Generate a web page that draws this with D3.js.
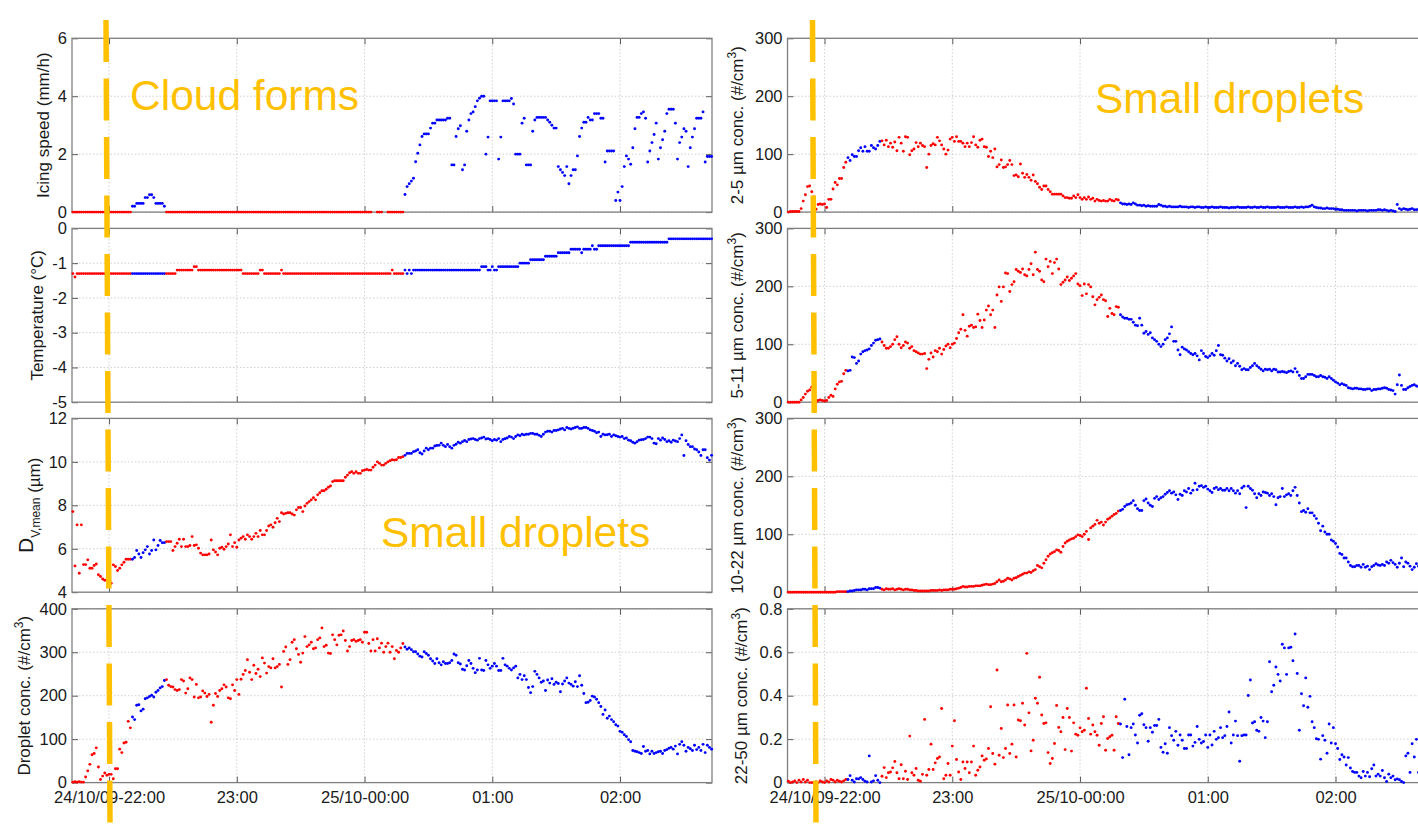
<!DOCTYPE html>
<html>
<head>
<meta charset="utf-8">
<script src="https://cdn.jsdelivr.net/npm/d3@7"></script>
<style>
  html, body { margin: 0; padding: 0; background: #fff; }
  svg { display: block; font-family: Arial, "Liberation Sans", sans-serif; }
</style>
</head>
<body>
<svg id="chart" width="1418" height="824"></svg>
<script>
// ---- time axis (1-minute samples from 21:43 to 02:43) ----
const sampleStart = "2009-10-24T21:43:00";
const xDomain = ["2009-10-24T21:42:36", "2009-10-25T02:43:12"];
const tickTimes = ["2009-10-24T22:00:00", "2009-10-24T23:00:00", "2009-10-25T00:00:00", "2009-10-25T01:00:00", "2009-10-25T02:00:00"];
const tickLabels = ["24/10/09-22:00", "23:00", "25/10-00:00", "01:00", "02:00"];

// ---- measured series (one value per minute) ----
const icingSpeed = [
  0,0,0,0,0,0,0,0,0,0, 0,0,0,0,0,0,0,0,0,0, 0,0,0,0,0,0,0,0,
  0.2,0.2,0.3,0.3,0.3,0.3,0.5,0.5,0.6,0.6,0.5,0.3,0.3,0.3,0.3,0.2,
  0,0,0,0,0,0,0,0,0,0, 0,0,0,0,0,0,0,0,0,0, 0,0,0,0,0,0,0,0,0,0,
  0,0,0,0,0,0,0,0,0,0, 0,0,0,0,0,0,0,0,0,0, 0,0,0,0,0,0,0,0,0,0,
  0,0,0,0,0,0,0,0,0,0, 0,0,0,0,0,0,0,0,0,0, 0,0,0,0,0,0,0,0,0,0,
  0,0,0,0,0,0,0,
  null,null,0,0,0,null,null,0,0,0,0,0,0,0,0,
  0.61,0.88,0.98,1.07,1.17,1.74,2.03,2.32,2.61,2.7,
  2.7,2.7,2.9,3.07,3.07,3.18,3.18,3.18,3.18,3.18,
  3.24,3.24,1.63,1.63,2.61,2.88,2.98,1.46,1.63,2.79,
  3.18,3.4,3.46,3.64,3.84,3.93,4.0,4.0,2.0,2.59,
  3.84,3.84,3.84,3.84,1.83,2.59,3.84,3.84,3.84,3.84,
  3.92,3.73,2.0,2.0,2.0,3.07,3.24,1.63,1.63,1.63,
  2.79,3.18,3.27,3.27,3.27,3.27,3.27,3.18,3.1,3.0,
  2.9,2.9,1.57,1.46,1.37,1.26,1.57,0.98,1.26,1.46,
  1.46,1.94,2.61,2.9,3.1,3.1,3.27,3.18,3.18,3.4,
  3.4,3.4,3.24,3.24,1.73,2.11,2.11,2.11,2.11,0.4,
  0.69,0.4,0.88,1.57,1.94,1.83,1.65,2.22,2.88,3.27,
  3.27,3.4,3.46,3.24,1.73,2.11,2.4,2.68,3.07,1.83,
  2.22,2.5,2.79,3.4,3.55,3.55,3.55,3.07,1.83,2.4,
  2.59,2.88,2.79,1.57,2.22,2.59,2.88,3.24,3.24,3.24,
  3.46,1.73,1.92,1.92,1.92
];

const temperature = [
  -1.3,-1.4,-1.3,-1.3,-1.3,-1.3,-1.3,-1.3,-1.3,-1.3,
  -1.3,-1.3,-1.3,-1.3,-1.3,-1.3,-1.3,-1.3,-1.3,-1.3,
  -1.3,-1.3,-1.3,-1.3,-1.3,-1.3,-1.3,-1.3,-1.3,-1.3,
  -1.3,-1.3,-1.3,-1.3,-1.3,-1.3,-1.3,-1.3,-1.3,-1.3,
  -1.3,-1.3,-1.3,-1.3,-1.3,-1.3,-1.3,-1.3,-1.3,-1.2,
  -1.2,-1.2,-1.2,-1.2,-1.2,-1.2,-1.2,-1.1,-1.1,-1.2,
  -1.2,-1.2,-1.2,-1.2,-1.2,-1.2,-1.2,-1.2,-1.2,-1.2,
  -1.2,-1.2,-1.2,-1.2,-1.2,-1.2,-1.2,-1.2,-1.2,-1.2,
  -1.3,-1.3,-1.3,-1.3,-1.3,-1.3,-1.3,-1.3,-1.2,-1.2,
  -1.3,-1.3,-1.3,-1.3,-1.3,-1.3,-1.3,-1.3,-1.2,-1.3,
  -1.3,-1.3,-1.3,-1.3,-1.3,-1.3,-1.3,-1.3,-1.3,-1.3,
  -1.3,-1.3,-1.3,-1.3,-1.3,-1.3,-1.3,-1.3,-1.3,-1.3,
  -1.3,-1.3,-1.3,-1.3,-1.3,-1.3,-1.3,-1.3,-1.3,-1.3,
  -1.3,-1.3,-1.3,-1.3,-1.3,-1.3,-1.3,-1.3,-1.3,-1.3,
  -1.3,-1.3,-1.3,-1.3,-1.3,-1.3,-1.3,-1.3,-1.3,-1.3,
  -1.2,-1.3,-1.3,-1.3,-1.3,-1.3,-1.2,-1.3,-1.2,-1.3,
  -1.2,-1.2,-1.2,-1.2,-1.2,-1.2,-1.2,-1.2,-1.2,-1.2,
  -1.2,-1.2,-1.2,-1.2,-1.2,-1.2,-1.2,-1.2,-1.2,-1.2,
  -1.2,-1.2,-1.2,-1.2,-1.2,-1.2,-1.2,-1.2,-1.2,-1.2,
  -1.2,-1.2,-1.1,-1.1,-1.1,-1.2,-1.2,-1.1,-1.2,-1.2,
  -1.1,-1.1,-1.1,-1.1,-1.1,-1.1,-1.1,-1.1,-1.1,-1.1,
  -1.0,-1.0,-1.0,-1.0,-1.0,-0.9,-0.9,-0.9,-0.9,-0.9,
  -0.9,-0.9,-0.8,-0.8,-0.8,-0.8,-0.8,-0.8,-0.7,-0.7,
  -0.7,-0.7,-0.7,-0.7,-0.6,-0.6,-0.6,-0.6,-0.6,-0.7,
  -0.6,-0.6,-0.6,-0.6,-0.5,-0.6,-0.6,-0.5,-0.5,-0.5,
  -0.5,-0.5,-0.5,-0.5,-0.5,-0.5,-0.5,-0.5,-0.5,-0.5,
  -0.5,-0.5,-0.4,-0.4,-0.4,-0.4,-0.4,-0.4,-0.4,-0.4,
  -0.4,-0.4,-0.4,-0.4,-0.4,-0.4,-0.4,-0.4,-0.4,-0.4,
  -0.3,-0.3,-0.3,-0.3,-0.3,-0.3,-0.3,-0.3,-0.3,-0.3,
  -0.3,-0.3,-0.3,-0.3,-0.3,-0.3,-0.3,-0.3,-0.3,-0.3,
  -0.3
];

const dvMean = [
  7.71,5.21,7.1,4.87,7.1,5.27,5.27,5.49,5.1,5.1,
  5.23,5.3,4.8,4.72,4.61,4.55,4.54,4.38,4.41,5.26,
  5.18,5.0,5.1,5.26,5.38,5.52,5.52,5.52,
  5.52,5.6,5.92,5.76,5.6,5.82,5.95,6.1,5.76,5.92,6.4,5.95,6.15,6.38,6.28,6.28,
  6.33,6.33,6.33,5.92,6.1,6.25,6.44,6.1,6.44,6.1,
  6.1,6.15,6.56,6.15,6.18,6.02,5.8,5.72,5.72,5.72,
  5.76,6.4,5.95,5.85,5.72,6.02,6.07,5.98,6.1,6.22,
  6.64,6.1,6.28,6.07,6.4,6.48,6.56,6.44,6.64,6.56,
  6.44,6.56,6.71,6.56,6.84,6.64,6.64,6.84,7.05,7.1,
  6.99,7.2,7.4,7.25,7.66,7.6,7.63,7.66,7.66,7.6,
  7.55,7.79,7.9,7.9,7.71,7.97,8.09,8.17,8.25,8.35,
  8.25,8.48,8.58,8.67,8.67,8.74,8.83,8.89,9.09,9.13,
  9.13,9.13,9.13,9.13,9.29,9.39,9.5,9.55,9.47,9.55,
  9.47,9.47,9.59,9.62,9.65,9.62,9.62,9.75,9.85,10.0,
  9.93,9.85,9.85,9.93,10.0,10.05,10.1,10.08,10.1,10.2,
  10.2,10.24,
  10.3,10.39,10.39,10.39,10.47,10.5,10.56,10.42,10.36,10.5,
  10.63,10.56,10.63,10.63,10.73,10.75,10.76,10.86,10.76,10.7,
  10.8,10.7,10.63,10.76,10.81,10.9,10.86,10.93,10.98,10.93,
  11.03,11.05,11.07,11.03,11.0,11.07,11.1,11.14,11.05,11.07,
  11.03,10.97,11.03,11.0,11.07,10.93,11.03,11.06,11.1,11.17,
  11.14,11.07,11.17,11.24,11.2,11.27,11.24,11.27,11.27,11.31,
  11.31,11.27,11.27,11.22,11.17,11.27,11.37,11.41,11.41,11.37,
  11.44,11.44,11.47,11.51,11.54,11.47,11.58,11.54,11.51,11.55,
  11.58,11.61,11.54,11.54,11.58,11.58,11.54,11.47,11.44,11.41,
  11.34,11.37,11.17,11.27,11.24,11.25,11.27,11.17,11.24,11.2,
  11.17,11.14,11.17,11.07,11.1,11.0,10.97,10.9,10.86,10.93,
  11.0,11.02,11.03,11.07,11.14,11.14,11.07,10.86,10.83,11.07,
  11.0,11.1,11.03,10.93,10.97,10.9,11.0,10.96,10.93,11.07,
  11.24,10.29,10.97,10.8,10.7,10.7,10.59,10.56,10.45,10.29,
  10.56,10.56,10.19,10.08,10.3
];

const dropletConc = [
  1,2,1,2,1,1,13,27,42,64,67,80,36,7,15,22,17,19,19,9,32,32,77,69,91,93,141,126,
  151,145,178,179,165,169,193,195,198,201,197,208,212,218,221,235,
  237,224,221,220,214,212,214,237,234,206,
  216,241,237,197,226,195,197,211,206,198,
  203,139,178,205,198,212,216,225,220,195,
  193,225,212,237,203,238,249,258,283,254,
  237,270,251,261,244,287,275,252,267,264,
  285,264,267,272,220,302,312,272,283,323,
  329,308,295,277,298,336,313,317,323,308,
  310,329,333,356,313,316,298,297,340,329,
  317,339,340,349,327,303,313,327,329,325,
  327,329,323,346,346,320,303,329,303,
  331,310,321,300,313,321,300,313,285,
  304,300,310,320,
  312,307,310,306,301,301,296,291,289,301,
  297,293,285,280,274,285,276,271,278,274,
  274,276,281,296,293,276,273,261,259,269,
  281,274,263,253,259,286,259,258,281,271,
  263,268,274,268,258,258,286,271,268,263,
  259,264,268,241,249,237,246,237,219,207,
  221,256,249,241,231,234,212,236,229,239,
  226,231,228,209,227,234,241,229,226,222,
  232,221,246,224,205,184,185,189,199,197,
  192,184,175,157,167,148,153,145,140,133,
  130,118,116,110,106,99,94,74,72,71,
  69,67,83,72,74,66,72,67,69,71,
  72,67,74,76,79,81,77,84,66,88,
  94,86,72,81,78,74,86,76,81,74,
  88,69,86,81,77
];

const conc2to5 = [
  0,1,1,1,1,1,6,19,30,44,45,35,26,5,13,14,13,14,8,22,22,40,51,47,58,58,77,86,
  94,89,99,96,96,106,111,105,113,105,105,115,111,109,115,122,
  123,116,124,113,119,112,121,106,129,119,
  105,130,129,99,106,109,120,113,119,115,
  113,77,100,115,118,116,129,123,116,109,
  100,107,126,129,122,130,122,122,119,113,
  119,113,120,130,116,112,124,126,113,112,
  96,105,94,109,78,82,90,77,78,82,
  89,82,63,64,61,83,67,60,65,60,
  55,64,53,49,43,39,45,45,39,35,
  31,31,31,31,31,28,25,25,24,24,
  28,25,30,25,22,25,22,26,22,24,
  19,22,20,19,20,19,19,22,20,19,
  22,21,
  16,14,14,13,14,13,16,14,12,12,11,12,
  10,11,10,10,10,10,13,12,10,10,9,10,9,9,9,
  9,10,9,9,9,8,9,9,8,9,9,8,8,9,8,8,9,8,8,8,9,8,8,8,7,8,8,8,9,8,8,8,8,9,8,
  8,9,8,8,9,8,8,9,8,8,8,8,9,8,8,8,9,8,8,8,9,8,8,9,8,9,9,
  10,12,9,8,7,7,6,6,7,6,6,6,5,5,4,4,3,3,
  3,3,3,3,2,3,3,3,3,2,3,3,3,3,4,4,3,4,3,2,3,2,1,
  13,6,4,6,5,4,5,6,4,4,5,4,5,4,5
];

const conc5to11 = [
  0,0,0,0,0,0,4,8,14,19,21,26,2,0,3,4,3,2,3,8,12,10,23,31,35,36,49,55,
  54,55,78,77,67,71,83,87,89,90,92,98,102,107,108,109,
  104,98,93,93,96,100,108,113,100,94,
  98,104,102,93,96,89,87,85,83,83,
  84,58,74,85,78,89,87,93,83,91,
  97,100,94,100,102,110,120,126,151,124,
  114,131,133,129,130,152,141,129,142,159,
  166,151,159,129,185,199,174,199,223,222,
  191,203,208,229,226,224,230,220,218,229,
  239,220,259,229,226,211,208,247,234,243,
  222,241,247,230,203,207,211,216,210,214,
  218,222,204,201,184,204,187,203,199,182,
  168,177,181,185,177,175,148,162,153,151,
  165,164,
  151,147,145,145,143,143,138,133,132,145,
  133,119,122,117,120,111,108,105,100,96,
  100,108,111,118,130,105,105,90,82,95,
  92,90,87,84,82,84,80,73,89,84,
  79,77,80,84,81,89,98,82,81,76,
  71,75,68,71,63,67,62,56,58,56,
  56,60,63,67,63,60,57,54,57,56,
  57,54,57,56,52,52,53,52,51,53,
  54,52,58,52,46,41,41,44,48,48,
  48,46,44,44,46,44,43,41,44,41,
  38,35,33,30,32,30,29,25,24,23,
  24,24,23,23,22,22,23,23,20,22,
  22,23,23,24,25,24,22,21,20,14,
  30,47,29,22,22,25,27,29,30,28,
  27,30,26,31,28
];

const conc10to22 = [
  0,0,0,0,0,0,0,0,0,0, 0,0,0,0,0,0,0,0,0,0, 0,0,0,1,1,1,1,1,
  1,2,2,3,4,4,4,5,5,4,6,6,6,8,8,7,
  5,4,6,5,5,6,4,5,6,5,
  4,5,5,4,4,3,3,2,2,2,
  2,2,2,3,3,3,3,4,3,4,
  4,4,5,5,5,6,7,8,10,9,
  9,10,10,10,11,11,11,12,13,14,
  13,13,14,15,18,21,18,19,21,24,
  23,21,24,25,27,29,31,33,33,35,
  34,37,39,46,44,42,50,56,62,66,
  68,70,73,72,69,79,85,88,90,92,
  93,96,99,98,96,100,105,91,111,114,
  117,124,119,121,116,121,126,128,131,134,
  136,140,
  141,143,148,151,152,154,158,150,144,141,
  141,158,161,154,150,148,162,165,160,163,
  165,169,172,175,171,173,168,160,169,167,
  175,173,179,171,176,188,177,183,184,181,
  183,178,175,172,179,181,177,179,176,176,
  179,175,179,175,171,175,170,180,183,146,
  183,179,176,170,163,170,167,173,172,171,
  167,170,165,151,163,165,179,165,168,170,
  167,175,181,167,154,139,141,138,144,137,
  137,132,127,119,106,114,104,100,100,90,
  88,84,78,67,65,59,59,52,46,44,
  44,46,46,43,48,43,45,39,44,46,
  49,47,46,48,46,52,50,55,51,48,
  43,50,59,44,52,50,45,39,43,49,
  45,42,47,40,44
];

const conc22to50 = [
  0.006,0,0.003,0.008,0,0.011,0.003,0.014,0.003,0.011,
  0,0,0,0.003,0,0.008,0.003,0,0.008,0.003,
  0.014,0.011,0.003,0.011,0.006,0.003,0.008,0.014,
  0.014,0.032,0.011,0.003,0.018,0.017,0.023,0.014,0.006,0.003,0.123,0.003,0.008,0.032,0.011,0,
  0.029,0.069,0.023,0.045,0.049,0.068,0.097,0.045,0.018,0.082,
  0.018,0.052,0.014,0.214,0.045,0.034,0.065,0.011,0.006,0.038,
  0.291,0.034,0.06,0.177,0.06,0.091,0.111,0.118,0.341,0.018,
  0.034,0.088,0.034,0.168,0.285,0.106,0.049,0.014,0.095,0.065,
  0.095,0.045,0.095,0.168,0.034,0.057,0.072,0.123,0.103,0.109,
  0.157,0.349,0.134,0.085,0.518,0.126,0.249,0.115,0.157,0.357,
  0.134,0.177,0.357,0.118,0.288,0.285,0.365,0.265,0.595,0.321,
  0.146,0.195,0.388,0.365,0.485,0.311,0.272,0.275,0.138,0.088,
  0.111,0.18,0.355,0.254,0.234,0.3,0.152,0.341,0.3,0.145,
  0.275,0.223,0.218,0.252,0.234,0.241,0.434,0.295,0.223,0.265,
  0.234,0.218,0.172,0.272,0.303,0.149,0.203,0.211,0.218,0.149,
  0.303,0.272,
  0.27,0.115,0.384,0.258,0.128,0.253,0.27,0.219,0.182,0.31,
  0.317,0.266,0.253,0.19,0.253,0.232,0.263,0.263,0.291,0.162,
  0.14,0.179,0.135,0.253,0.216,0.195,0.236,0.172,0.219,0.195,
  0.157,0.157,0.219,0.219,0.168,0.185,0.258,0.199,0.182,0.189,
  0.219,0.162,0.219,0.173,0.236,0.199,0.207,0.253,0.207,0.216,
  0.258,0.325,0.182,0.219,0.283,0.216,0.098,0.216,0.219,0.219,
  0.401,0.472,0.274,0.28,0.241,0.236,0.3,0.283,0.207,0.28,
  0.556,0.418,0.448,0.532,0.498,0.468,0.637,0.62,0.498,0.62,
  0.623,0.561,0.684,0.502,0.241,0.409,0.354,0.482,0.347,0.397,
  0.28,0.253,0.202,0.199,0.108,0.216,0.195,0.135,0.27,0.182,
  0.253,0.179,0.157,0.106,0.128,0.118,0.081,0.115,0.067,0.051,
  0.047,0.047,0.03,0.022,0.051,0.03,0.047,0.027,0.064,0.081,
  0.03,0.039,0.03,0.056,0.022,0.005,0.039,0.022,0.03,0.013,
  0.017,0.013,0.005,0,0.123,0.135,0.047,0.179,0.118,0.199,
  0.047,0.039,0.056,0.047,0.034
];

// y-axis ticks per panel
const ticksIcing = [0, 2, 4, 6];
const ticksTemp = [-5, -4, -3, -2, -1, 0];
const ticksDv = [4, 6, 8, 10, 12];
const ticksDroplet = [0, 100, 200, 300, 400];
const ticksConc = [0, 100, 200, 300];
const ticksLarge = [0, 0.2, 0.4, 0.6, 0.8];

// ---- layout ----
const colX = [72, 787.5];
const rowY = [38.3, 228.4, 418.4, 608.8];
const plotW = 640, plotH = 173.8;
const RED = "#ff0000", BLUE = "#0000ff", GOLD = "#ffc000";
const FONT = "Arial, 'Liberation Sans', sans-serif";

const parse = s => new Date(s);
const start = parse(sampleStart);
const times = icingSpeed.map((_, i) => d3.timeMinute.offset(start, i));
// points are blue while ice is accreting (icing speed above zero)
const icing = icingSpeed.map(v => v != null && v > 0);

const x = d3.scaleTime().domain(xDomain.map(parse)).range([0, plotW]);

// label pieces: [text, baseline offset, font size]
const panels = [
  { col: 0, row: 0, values: icingSpeed, domain: [0, 6], ticks: ticksIcing, labelX: 48.5,
    label: [["Icing speed (mm/h)", 0, 17]] },
  { col: 0, row: 1, values: temperature, domain: [-5, 0], ticks: ticksTemp, labelX: 43,
    label: [["Temperature (°C)", 0, 17]] },
  { col: 0, row: 2, values: dvMean, domain: [4, 12], ticks: ticksDv, labelX: 33,
    label: [["D", 0, 21], ["V,mean", 6.5, 12], [" (µm)", 6.5, 17]] },
  { col: 0, row: 3, values: dropletConc, domain: [0, 400], ticks: ticksDroplet, labelX: 29.5,
    label: [["Droplet conc. (#/cm", 0, 17], ["3", -7, 12], [")", 0, 17]] },
  { col: 1, row: 0, values: conc2to5, domain: [0, 300], ticks: ticksConc, labelX: 743,
    label: [["2-5 µm conc. (#/cm", 0, 17], ["3", -7, 12], [")", 0, 17]] },
  { col: 1, row: 1, values: conc5to11, domain: [0, 300], ticks: ticksConc, labelX: 743,
    label: [["5-11 µm conc. (#/cm", 0, 17], ["3", -7, 12], [")", 0, 17]] },
  { col: 1, row: 2, values: conc10to22, domain: [0, 300], ticks: ticksConc, labelX: 743,
    label: [["10-22 µm conc. (#/cm", 0, 17], ["3", -7, 12], [")", 0, 17]] },
  { col: 1, row: 3, values: conc22to50, domain: [0, 0.8], ticks: ticksLarge, labelX: 746.5,
    label: [["22-50 µm conc. (#/cm", 0, 17], ["3", -7, 12], [")", 0, 17]] }
];

const svg = d3.select("#chart");
svg.append("rect").attr("width", 1418).attr("height", 824).attr("fill", "#fff");

const tickDates = tickTimes.map(parse);

panels.forEach(p => {
  const y = d3.scaleLinear().domain(p.domain).range([plotH, 0]);
  const g = svg.append("g").attr("transform", `translate(${colX[p.col]},${rowY[p.row]})`);

  // dotted grid
  const grid = g.append("g").attr("stroke", "#c4c4c4").attr("stroke-width", 0.8)
    .attr("stroke-dasharray", "1.5,2");
  tickDates.forEach(d => grid.append("line")
    .attr("x1", x(d)).attr("x2", x(d)).attr("y1", 0).attr("y2", plotH));
  p.ticks.forEach(v => grid.append("line")
    .attr("x1", 0).attr("x2", plotW).attr("y1", y(v)).attr("y2", y(v)));

  // left axis with labels, ticks pointing inward
  const ya = g.append("g").call(d3.axisLeft(y).tickValues(p.ticks).tickSize(-6)
    .tickPadding(5).tickFormat(d => String(d)));
  ya.select(".domain").remove();
  ya.selectAll("line").attr("stroke", "#5a5a5a");
  ya.selectAll("text").attr("font-size", 16.5).attr("fill", "#1a1a1a").attr("font-family", FONT);
  // right-side inward ticks
  const yr = g.append("g").attr("transform", `translate(${plotW},0)`)
    .call(d3.axisRight(y).tickValues(p.ticks).tickSize(-6).tickFormat(""));
  yr.select(".domain").remove();
  yr.selectAll("line").attr("stroke", "#5a5a5a");

  // bottom / top inward ticks
  const xb = g.append("g").attr("transform", `translate(0,${plotH})`)
    .call(d3.axisBottom(x).tickValues(tickDates).tickSize(-6).tickPadding(9)
      .tickFormat((d, i) => p.row === 3 ? tickLabels[i] : ""));
  xb.select(".domain").remove();
  xb.selectAll("line").attr("stroke", "#5a5a5a");
  xb.selectAll("text").attr("font-size", 16.5).attr("fill", "#1a1a1a").attr("font-family", FONT);
  const xt = g.append("g")
    .call(d3.axisTop(x).tickValues(tickDates).tickSize(-6).tickFormat(""));
  xt.select(".domain").remove();
  xt.selectAll("line").attr("stroke", "#5a5a5a");

  // box
  g.append("rect").attr("width", plotW).attr("height", plotH)
    .attr("fill", "none").attr("stroke", "#7f7f7f").attr("stroke-width", 1.3);

  // measurements
  const pts = p.values.map((v, i) => ({ v, t: times[i], ice: icing[i] }))
    .filter(d => d.v != null);
  g.append("g").selectAll("circle").data(pts).join("circle")
    .attr("cx", d => x(d.t)).attr("cy", d => y(d.v)).attr("r", 1.45)
    .attr("fill", d => d.ice ? BLUE : RED);

  // rotated y label
  const cy = rowY[p.row] + plotH / 2;
  const txt = svg.append("text")
    .attr("transform", `translate(${p.labelX},${cy}) rotate(-90)`)
    .attr("text-anchor", "middle").attr("fill", "#1a1a1a");
  let shift = 0;
  p.label.forEach(([s, offset, size]) => {
    txt.append("tspan").attr("dy", offset - shift).attr("font-size", size).text(s);
    shift = offset;
  });
});

// cloud-formation markers
const markers = [[106, 20, 110, 824], [812.5, 20, 816, 824]];
markers.forEach(([x1, y1, x2, y2]) => {
  svg.append("line").attr("x1", x1).attr("y1", y1).attr("x2", x2).attr("y2", y2)
    .attr("stroke", GOLD).attr("stroke-width", 5.5).attr("stroke-dasharray", "42,16.5");
});

// annotations
const notes = [
  { text: "Cloud forms", x: 130, y: 110 },
  { text: "Small droplets", x: 1095, y: 113 },
  { text: "Small droplets", x: 381, y: 547 }
];
notes.forEach(n => svg.append("text").attr("x", n.x).attr("y", n.y)
  .attr("font-size", 42.5).attr("fill", GOLD).text(n.text));
</script>
</body>
</html>
